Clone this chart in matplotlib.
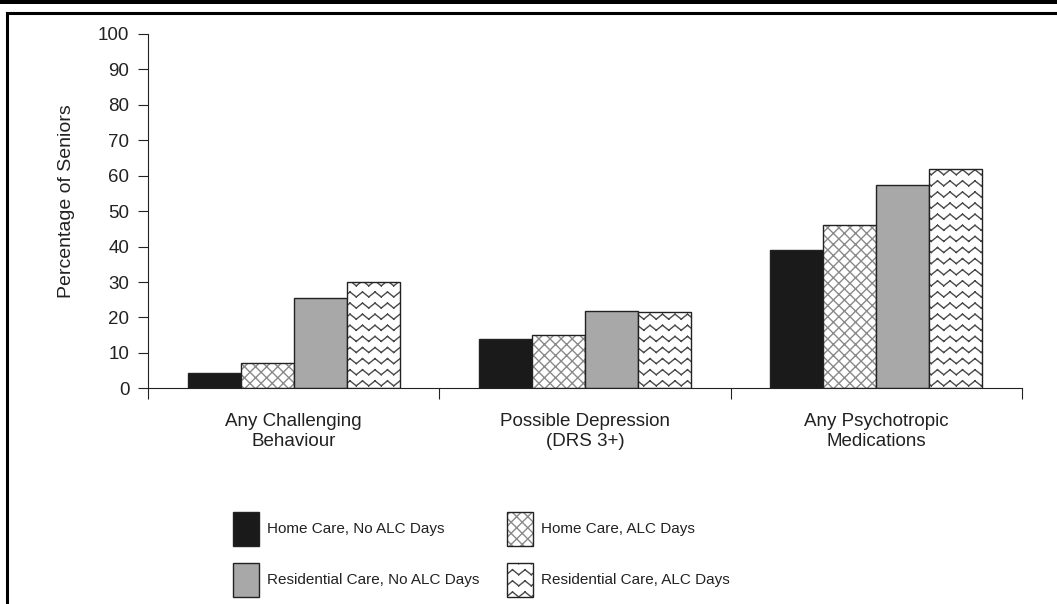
import warnings

import numpy as np
import matplotlib
matplotlib.use("Agg")
import matplotlib.hatch as mhatch
from matplotlib import pyplot as plt
from matplotlib.lines import Line2D
from matplotlib.patches import Rectangle
from matplotlib.path import Path

warnings.filterwarnings("ignore", message=".*hatch must consist.*")

categories = ["Any Challenging\nBehaviour", "Possible Depression\n(DRS 3+)",
              "Any Psychotropic\nMedications"]
home_no_alc = [4.3, 13.8, 39.1]
home_alc = [7.1, 15.0, 46.0]
res_no_alc = [25.6, 21.9, 57.4]
res_alc = [29.9, 21.5, 61.9]
series_labels = ["Home Care, No ALC Days", "Home Care, ALC Days",
                 "Residential Care, No ALC Days", "Residential Care, ALC Days"]
yticks = [0, 10, 20, 30, 40, 50, 60, 70, 80, 90, 100]


# ジグザグのハッチ (matplotlib には無いので 'z' として追加)
# Agg はハッチのパスを塗りつぶすので、線分ごとに MOVETO/LINETO で描く
class ZigzagHatch(mhatch.HatchPatternBase):
    def __init__(self, hatch, density):
        self.num_rows = hatch.count("z") * 9
        self.num_segs = 16
        self.num_vertices = self.num_rows * self.num_segs * 2

    def set_vertices_and_codes(self, vertices, codes):
        xs = np.linspace(0.0, 1.0, self.num_segs + 1)
        offs = np.where(np.arange(self.num_segs + 1) % 2 == 0, 0.025, -0.025)
        k = 0
        for i in range(self.num_rows):
            y = (i + 0.5) / self.num_rows
            for j in range(self.num_segs):
                vertices[k] = (xs[j], y + offs[j])
                vertices[k + 1] = (xs[j + 1], y + offs[j + 1])
                codes[k] = Path.MOVETO
                codes[k + 1] = Path.LINETO
                k += 2


mhatch._hatch_types.append(ZigzagHatch)


def main():
    plt.rcParams["font.family"] = ["Liberation Sans", "DejaVu Sans"]
    plt.rcParams["hatch.linewidth"] = 1.0

    fig = plt.figure(figsize=(10.57, 6.04), dpi=100)
    ax = fig.add_axes([148 / 1057, 215.7 / 604, 874 / 1057, 354.3 / 604])

    x = np.arange(len(categories))
    w = 0.182
    styles = [
        dict(color="#1a1a1a", hatch=None, hc=None),
        dict(color="white", hatch="xxx", hc="#8a8a8a"),
        dict(color="#a8a8a8", hatch=None, hc=None),
        dict(color="white", hatch="z", hc="#4a4a4a"),
    ]
    handles = []
    for i, (vals, st) in enumerate(zip([home_no_alc, home_alc, res_no_alc, res_alc], styles)):
        bars = ax.bar(x + (i - 1.5) * w, vals, w, color=st["color"], edgecolor="#222222",
                      linewidth=1.0, hatch=st["hatch"], label=series_labels[i])
        if st["hc"]:
            for p in bars:
                p._hatch_color = matplotlib.colors.to_rgba(st["hc"])
        handles.append(bars)

    ax.set_xlim(-0.5, 2.5)
    ax.set_ylim(0, 100)
    ax.set_yticks(yticks)
    ax.tick_params(axis="y", direction="out", length=7.5, width=0.8, labelsize=13.5, pad=6,
                   colors="#222222")
    ax.set_xticks([-0.5, 0.5, 1.5, 2.5])
    ax.set_xticklabels([])
    ax.tick_params(axis="x", which="major", direction="out", length=8, width=0.8, colors="#222222")
    ax.set_xticks(x, minor=True)
    ax.set_xticklabels(categories, minor=True, fontsize=13.5, linespacing=1.2)
    ax.tick_params(axis="x", which="minor", length=0, pad=18, colors="#222222")
    for s in ["top", "right"]:
        ax.spines[s].set_visible(False)
    for s in ["left", "bottom"]:
        ax.spines[s].set_linewidth(0.8)
        ax.spines[s].set_color("#222222")
    ax.spines["left"].set_bounds(0, 100)

    ax.set_ylabel("Percentage of Seniors", fontsize=14, color="#222222")
    ax.yaxis.set_label_coords(-0.083, 0.527)

    order = [0, 2, 1, 3]
    fs = 11
    fig.legend([handles[k] for k in order], [series_labels[k] for k in order],
               loc="upper left", bbox_to_anchor=(233 / 1057, 1 - 512 / 604), ncol=2,
               frameon=False, fontsize=fs, handlelength=1.7, handleheight=3.05,
               handletextpad=0.52, labelspacing=1.08, columnspacing=1.83,
               borderpad=0, borderaxespad=0, labelcolor="#222222")

    # 外枠
    fig.add_artist(Rectangle((0, 1 - 3.5 / 604), 1, 3.5 / 604, transform=fig.transFigure,
                             color="black", lw=0))
    fig.add_artist(Line2D([7 / 1057, 1], [1 - 13 / 604] * 2, transform=fig.transFigure,
                          color="black", lw=2.2))
    fig.add_artist(Line2D([7 / 1057] * 2, [0, 1 - 13 / 604], transform=fig.transFigure,
                          color="black", lw=2.2))

    fig.savefig("out.png", dpi=100)


if __name__ == "__main__":
    main()
